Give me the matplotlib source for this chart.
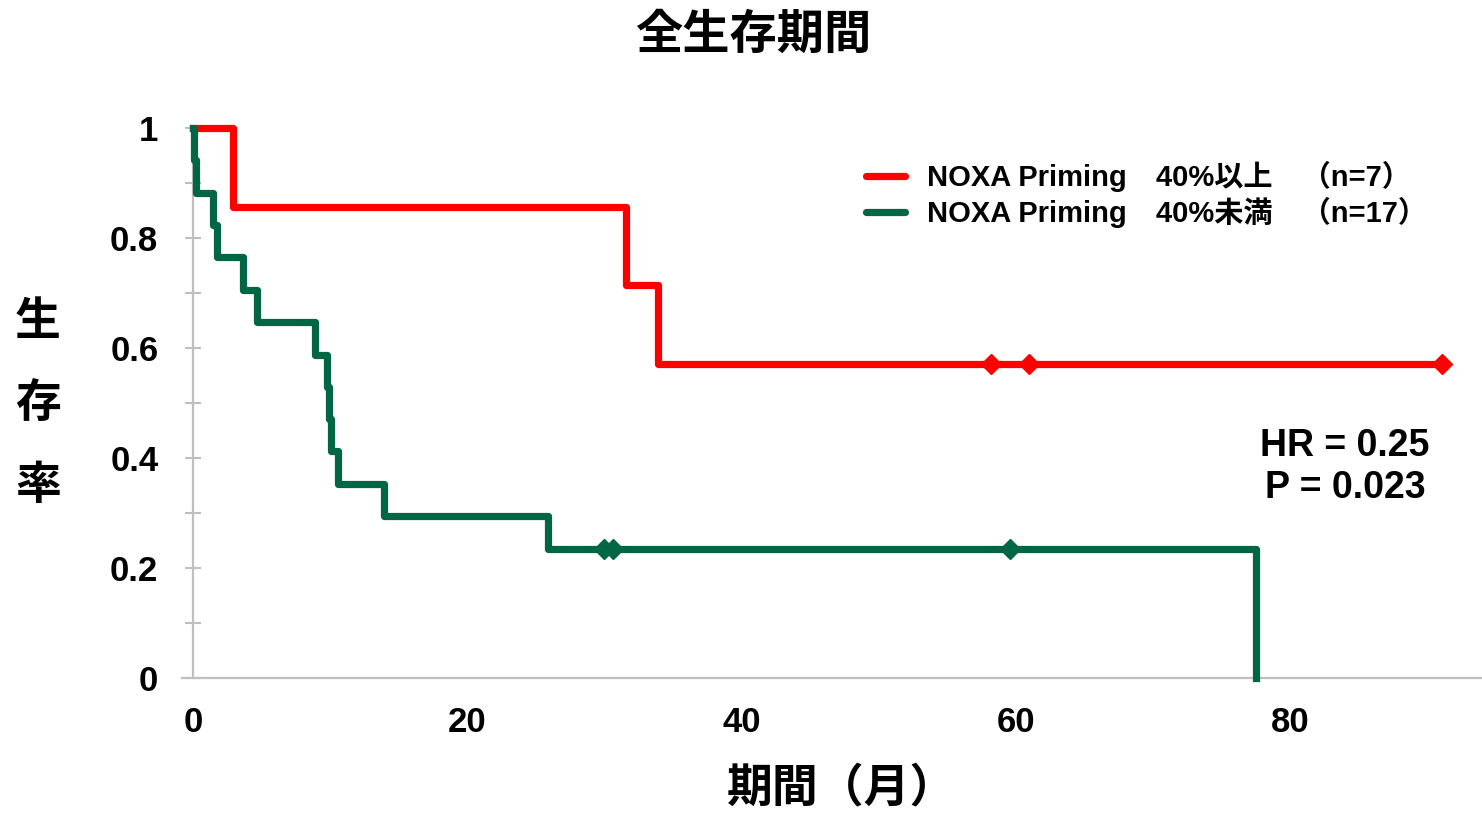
import matplotlib
matplotlib.use("Agg")
import matplotlib.pyplot as plt
from matplotlib.lines import Line2D

# ---- data ----
red_times = [0, 2.9, 31.6, 33.9, 91.1]
red_surv = [1.0, 0.857, 0.714, 0.571, 0.571]
red_censor_t = [58.2, 61.0, 91.1]
red_censor_s = [0.571, 0.571, 0.571]

green_times = [0, 0.05, 0.2, 1.45, 1.75, 3.65, 4.65, 8.9, 9.8, 9.95, 10.1, 10.6, 13.9, 25.9, 77.5]
green_surv = [1.0, 0.941, 0.882, 0.824, 0.765, 0.706, 0.647, 0.588, 0.529, 0.471, 0.412, 0.353, 0.294, 0.235, 0.0]
green_censor_t = [30.0, 30.6, 59.6]
green_censor_s = [0.235, 0.235, 0.235]

labels = ["NOXA Priming\u300040%以上\u3000（n=7）", "NOXA Priming\u300040%未満\u3000（n=17）"]
colors = ["#FF0000", "#006644"]
yticks = [0, 0.2, 0.4, 0.6, 0.8, 1.0]
yticklabels = ["0", "0.2", "0.4", "0.6", "0.8", "1"]
xticks = [0, 20, 40, 60, 80]
stats_text = "HR = 0.25\nP = 0.023"

FONT = ["Liberation Sans", "Noto Sans CJK JP", "DejaVu Sans"]
CJK = ["Noto Sans CJK JP", "DejaVu Sans"]
plt.rcParams["font.family"] = FONT

fig = plt.figure(figsize=(14.82, 8.15), dpi=100)
ax = fig.add_axes([182 / 1482, 1 - 678 / 815, 1300 / 1482, 550 / 815])

xmin = -11 / 13.7
xmax = (1482 - 194) / 13.7
ax.set_xlim(xmin, xmax)
ax.set_ylim(0, 1)

ax.step(red_times, red_surv, where="post", color=colors[0], lw=5.2,
        solid_joinstyle="round", clip_on=False, zorder=3)
ax.step(green_times, green_surv, where="post", color=colors[1], lw=5.2,
        solid_joinstyle="round", clip_on=False, zorder=3)
ax.plot(red_censor_t, red_censor_s, ls="none", marker="D", ms=10,
        color=colors[0], clip_on=False, zorder=4)
ax.plot(green_censor_t, green_censor_s, ls="none", marker="D", ms=10,
        color=colors[1], clip_on=False, zorder=4)

# spines
for s in ["top", "right"]:
    ax.spines[s].set_visible(False)
ax.spines["left"].set_position(("data", 0))
for s in ["left", "bottom"]:
    ax.spines[s].set_color("#BFBFBF")
    ax.spines[s].set_linewidth(1.6)

ax.set_yticks(yticks)
ax.set_yticklabels(yticklabels, fontsize=25, fontweight="bold")
ax.set_yticks([0.1, 0.3, 0.5, 0.7, 0.9], minor=True)
ax.tick_params(axis="y", which="both", direction="inout", length=12,
               width=1.5, color="#BFBFBF", pad=19)
ax.set_xticks(xticks)
ax.set_xticklabels([str(v) for v in xticks], fontsize=25, fontweight="bold")
ax.tick_params(axis="x", length=0, pad=20)

# legend
handles = [Line2D([], [], color=c, lw=5.2, solid_capstyle="round") for c in colors]
leg = ax.legend(handles, labels, loc="upper left",
                bbox_to_anchor=(866 / 1482, 1 - 161 / 815),
                bbox_transform=fig.transFigure, frameon=False,
                prop={"family": FONT, "weight": "bold", "size": 21},
                handlelength=1.35, handletextpad=0.75, labelspacing=0.16,
                borderpad=0, borderaxespad=0)

fig.text(1345 / 1482, 1 - 467 / 815, stats_text, ha="center", va="center",
         fontsize=27, fontweight="bold", family=FONT, linespacing=1.25)

fig.text(753 / 1482, 1 - 35 / 815, "全生存期間", ha="center", va="center",
         fontsize=34, fontweight="bold", family=CJK)
fig.text(842 / 1482, 1 - 788 / 815, "期間（月）", ha="center", va="center",
         fontsize=33, fontweight="bold", family=CJK)
fig.text(38 / 1482, 1 - 404 / 815, "生\n存\n率", ha="center", va="center",
         fontsize=33, fontweight="bold", family=CJK, linespacing=2.0)

fig.savefig("out.png", dpi=100)
